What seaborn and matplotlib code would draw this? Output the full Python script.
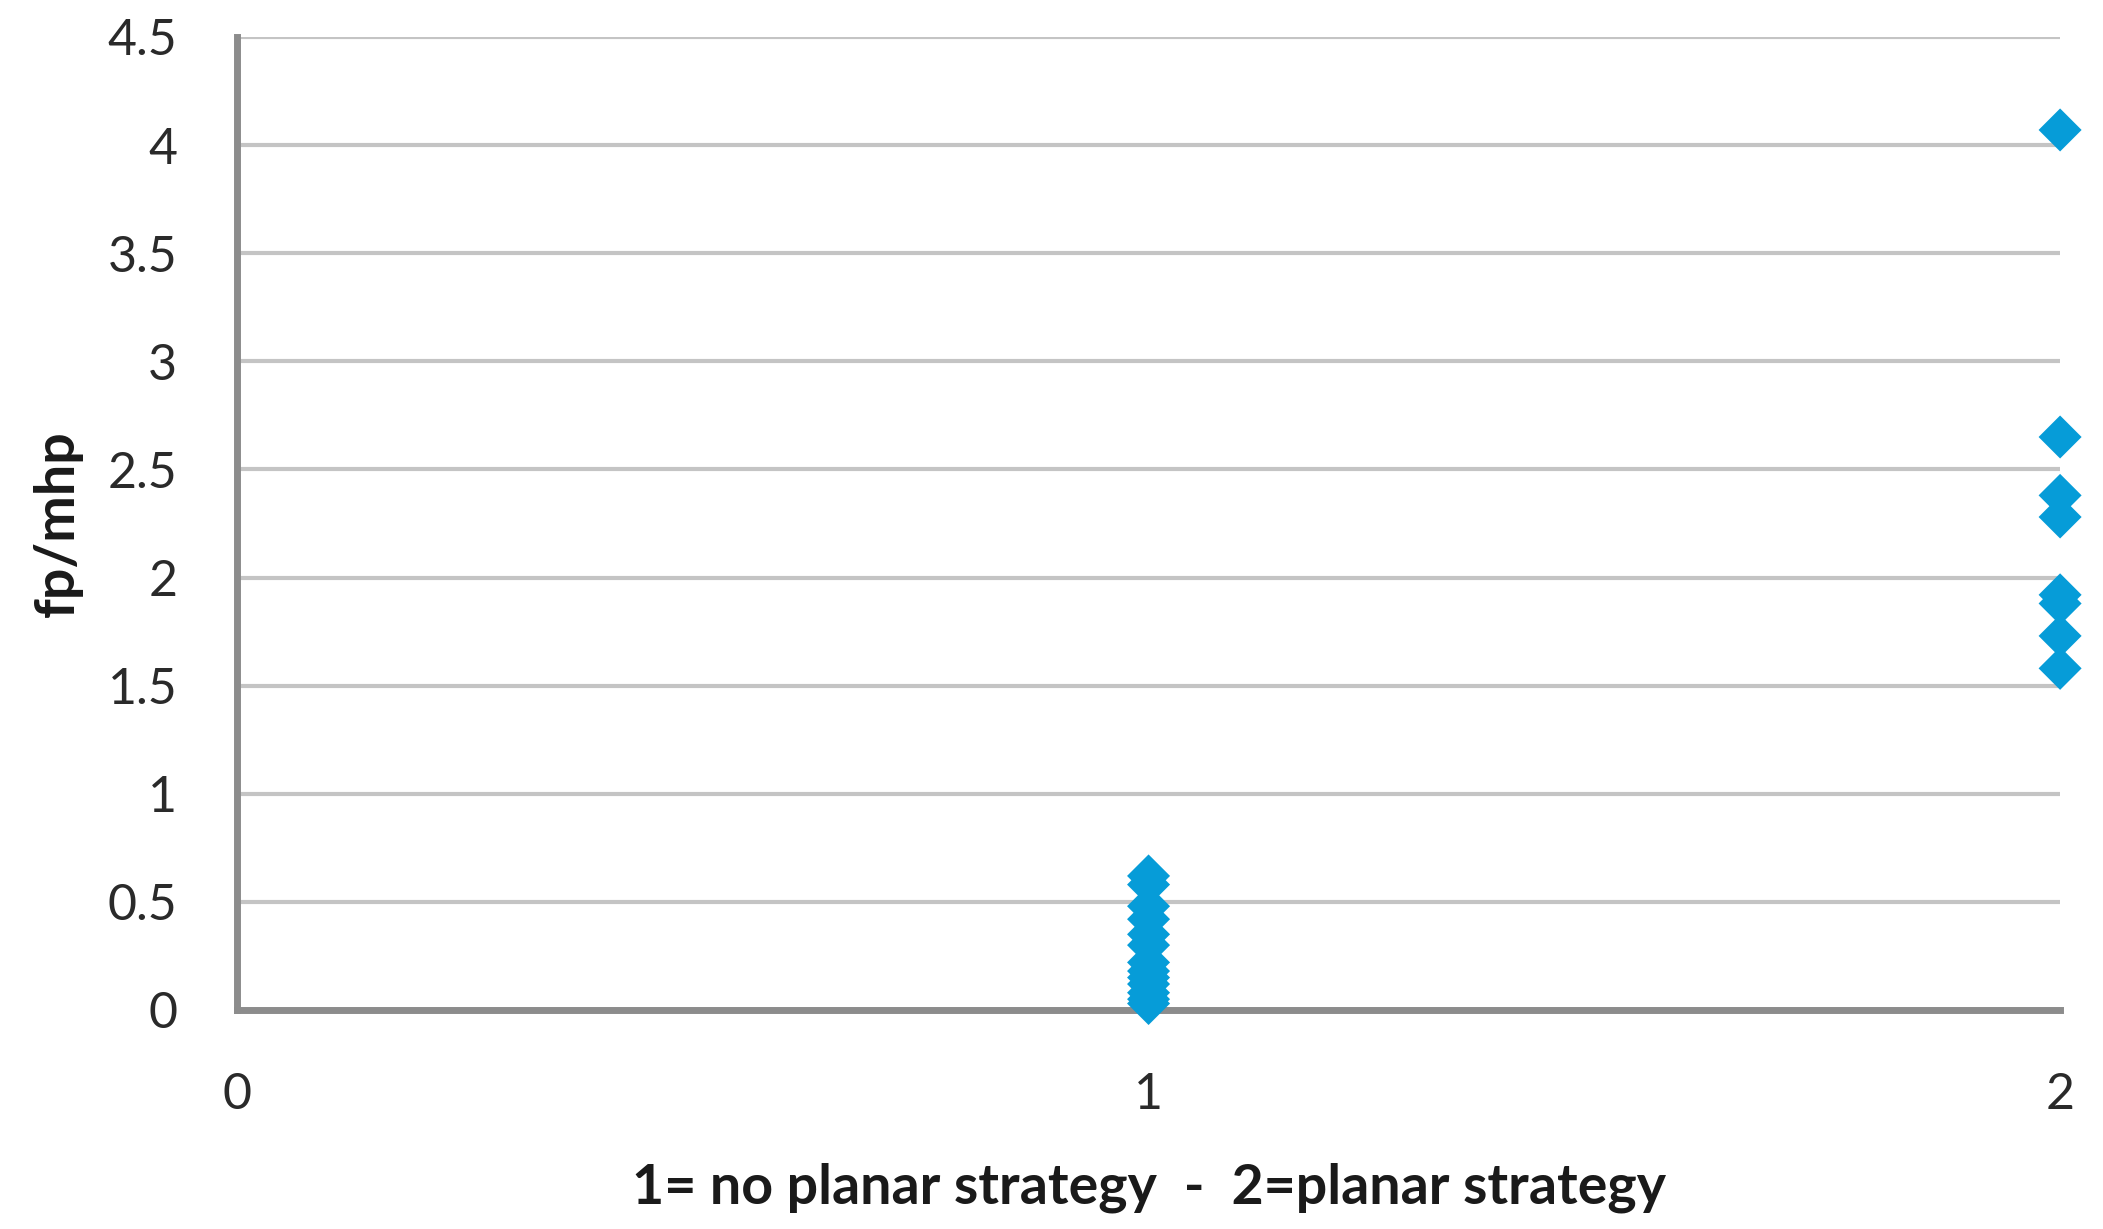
import matplotlib
matplotlib.use("Agg")
import matplotlib.pyplot as plt
import seaborn as sns
import pandas as pd

# Data
strategy_1_values = [0.62, 0.58, 0.48, 0.42, 0.35, 0.30, 0.22, 0.18, 0.15, 0.12, 0.08, 0.05, 0.03]
strategy_2_values = [4.07, 2.65, 2.38, 2.28, 1.92, 1.88, 1.73, 1.58]
x_ticks = [0, 1, 2]
y_ticks = [0, 0.5, 1, 1.5, 2, 2.5, 3, 3.5, 4, 4.5]
y_tick_labels = ["0", "0.5", "1", "1.5", "2", "2.5", "3", "3.5", "4", "4.5"]
x_label = "1= no planar strategy  -  2=planar strategy"
y_label = "fp/mhp"

df = pd.DataFrame({
    "strategy": [1] * len(strategy_1_values) + [2] * len(strategy_2_values),
    "value": strategy_1_values + strategy_2_values,
})

sns.set_theme(style="white")
plt.rcParams["font.family"] = ["Lato", "DejaVu Sans"]

fig = plt.figure(figsize=(21.03, 12.29), dpi=100)
ax = fig.add_axes([0.1127, 0.1782, 0.9796 - 0.1127, 0.9699 - 0.1782])

sns.scatterplot(data=df, x="strategy", y="value", marker="D", s=480,
                color="#069CD8", edgecolor="none", linewidth=0, ax=ax,
                clip_on=False, zorder=5, legend=False)

ax.set_xlim(0, 2)
ax.set_ylim(0, 4.5)
ax.set_xticks(x_ticks)
ax.set_xticklabels([str(t) for t in x_ticks])
ax.set_yticks(y_ticks)
ax.set_yticklabels(y_tick_labels)

ax.grid(axis="y", color="#C4C4C4", linewidth=3.0)
ax.grid(axis="x", visible=False)
ax.set_axisbelow(True)

for side in ["top", "right"]:
    ax.spines[side].set_visible(False)
for side in ["left", "bottom"]:
    ax.spines[side].set_color("#8C8C8C")
    ax.spines[side].set_linewidth(5)

ax.tick_params(axis="both", length=0, labelsize=36, colors="#2A2A2A")
ax.tick_params(axis="y", pad=43)
ax.tick_params(axis="x", pad=45)

ax.set_xlabel(x_label, fontsize=40, fontweight="bold", color="#1A1A1A", labelpad=32)
ax.set_ylabel(y_label, fontsize=40, fontweight="bold", color="#1A1A1A", labelpad=18)

fig.savefig("out.png", dpi=100, facecolor="white")
